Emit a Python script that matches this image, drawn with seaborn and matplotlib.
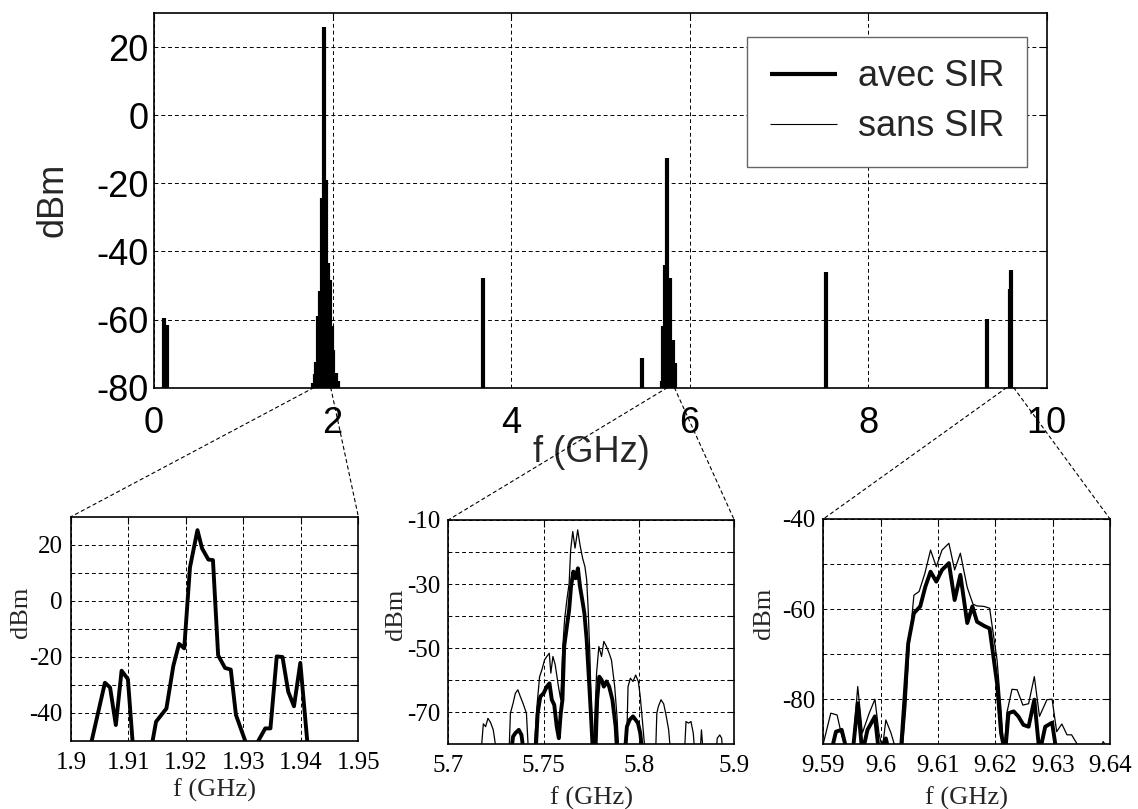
import matplotlib
matplotlib.use("Agg")
import matplotlib.pyplot as plt
from matplotlib.patches import ConnectionPatch
import pandas as pd
import seaborn as sns

# ---- main spectrum: spurs (GHz, dBm) ----
spur_f = [0.117, 0.149, 1.78, 1.80, 1.82, 1.84, 1.86, 1.88, 1.905, 1.93, 1.95,
          1.97, 1.99, 2.01, 2.04, 2.06, 3.68, 5.47, 5.69, 5.70, 5.72, 5.75,
          5.78, 5.81, 5.84, 7.53, 9.33, 9.59, 9.60]
spur_db = [-59.5, -61.6, -78.5, -76, -72.6, -59, -51.5, -24.4, 26, -19, -43.5,
           -48.5, -61.8, -69, -75.6, -78, -47.7, -71.4, -78, -62, -44, -12.6,
           -47.7, -66, -72.8, -46, -59.8, -51, -45.4]

# where the zoom lines leave the main axis (GHz)
zoom_from_left = [1.79, 5.75, 9.55]
zoom_from_right = [1.98, 5.83, 9.63]

# ---- zoom 1 : 1.90 - 1.95 GHz (both traces coincide) ----
z1_f = [1.9030, 1.9036, 1.9059, 1.9068, 1.9078, 1.9088, 1.9099, 1.9107, 1.9125,
        1.9142, 1.9148, 1.9166, 1.9178, 1.9188, 1.9197, 1.9207, 1.9220, 1.9228,
        1.9239, 1.9247, 1.9256, 1.9268, 1.9278, 1.9287, 1.9303, 1.9315, 1.9326,
        1.9338, 1.9347, 1.9358, 1.9368, 1.9378, 1.9388, 1.9399, 1.9411, 1.9420]
z1_db = [-56, -50, -29.3, -31, -44.4, -25, -28, -50, -60,
         -50, -43.2, -38.5, -23.3, -15.4, -17, 11.9, 25.2, 18.7,
         14.7, 14.5, -19.5, -24, -24.6, -40.8, -50, -60, -50,
         -45.6, -45.6, -19.9, -20.1, -32.5, -37.7, -22.2, -50, -58]

# ---- zoom 2 : 5.70 - 5.85 GHz ----
z2_sans_f = [5.7000,
             5.7170, 5.7184, 5.7196, 5.7208, 5.7222, 5.7236, 5.7257,
             5.7318, 5.7326, 5.7340, 5.7352, 5.7365, 5.7378, 5.7392, 5.7410, 5.7422,
             5.7448, 5.7465, 5.7479, 5.7491, 5.7505, 5.7517, 5.7530, 5.7538, 5.7549,
             5.7561, 5.7578, 5.7590,
             5.7601, 5.7610, 5.7622, 5.7634, 5.7642, 5.7653, 5.7665, 5.7679, 5.7691,
             5.7705, 5.7717, 5.7726, 5.7734, 5.7743, 5.7752, 5.7760,
             5.7778, 5.7790, 5.7804, 5.7816, 5.7830, 5.7844, 5.7856, 5.7873, 5.7885, 5.7896,
             5.7934, 5.7943, 5.7955, 5.7969, 5.7983, 5.7997, 5.8007, 5.8021, 5.8035,
             5.8087, 5.8094, 5.8102, 5.8116, 5.8130, 5.8142, 5.8156, 5.8168,
             5.8238, 5.8247, 5.8260, 5.8273, 5.8285, 5.8295,
             5.8320, 5.8328, 5.8339,
             5.8403, 5.8411, 5.8424, 5.8434, 5.8441,
             5.8500]
z2_sans_db = [-84,
              -84, -73.6, -74.5, -71.9, -73.2, -75.5, -84,
              -84, -70.3, -67.2, -64.1, -63, -65.1, -67.2, -70.3, -84,
              -84, -68.2, -58.9, -56.8, -53.7, -52.6, -51.6, -57.8, -52.6,
              -55.2, -62.0, -66.1,
              -49.5, -41.2, -35, -29.8, -19.4, -13.6, -18.8, -13.1, -17.8,
              -22, -24.6, -28.7, -38.1, -52.6, -72.4, -84,
              -57.8, -49.5, -52.6, -47.9, -49.5, -51.6, -53.7, -62.0, -71.3, -84,
              -84, -62, -59.4, -60.4, -58.4, -60.4, -65.1, -74.5, -84,
              -84, -70.3, -68.2, -66.1, -67.4, -70.8, -75.5, -84,
              -84, -72.9, -73.4, -72.9, -76.5, -84,
              -84, -75.5, -84,
              -84, -78.1, -77.1, -78.1, -84,
              -84]
z2_avec_f = [5.7000, 5.7326, 5.7340, 5.7352, 5.7370, 5.7384, 5.7399,
             5.7457, 5.7469, 5.7483, 5.7500, 5.7517, 5.7531, 5.7543, 5.7556, 5.7569, 5.7580,
             5.7590, 5.7599, 5.7608, 5.7622, 5.7634, 5.7644, 5.7656, 5.7668, 5.7680,
             5.7691, 5.7703, 5.7714, 5.7726, 5.7736, 5.7747, 5.7760,
             5.7771, 5.7781, 5.7792, 5.7804, 5.7816, 5.7830, 5.7844, 5.7861, 5.7878, 5.7887,
             5.7925, 5.7937, 5.7951, 5.7969, 5.7983, 5.7995, 5.8007, 5.8021, 5.8500]
z2_avec_db = [-84, -84, -77.6, -76.5, -75.5, -77.1, -84,
              -84, -70.3, -65.1, -64.1, -62, -61, -66.1, -67.7, -74.5, -78.1,
              -70.3, -66.1, -49.5, -43.3, -38.1, -30.8, -26.1, -28.2, -25.1,
              -30.8, -35, -39.1, -47.4, -57.8, -69.3, -84,
              -84, -66.1, -58.9, -59.9, -62, -60.4, -62, -66.1, -74.5, -84,
              -84, -74.5, -72.4, -71.3, -72.4, -73.4, -76.5, -84, -84]

# ---- zoom 3 : 9.59 - 9.64 GHz ----
z3_sans_f = [9.5900, 9.5913, 9.5924, 9.5931, 9.5939, 9.5951, 9.5960, 9.5968, 9.5980,
             9.5990, 9.5997, 9.6003, 9.6009, 9.6018, 9.6026, 9.6038, 9.6044, 9.6050,
             9.6058, 9.6067, 9.6077, 9.6087, 9.6097, 9.6107, 9.6119, 9.6129, 9.6139,
             9.6151, 9.6161, 9.6168, 9.6180, 9.6190, 9.6203, 9.6210, 9.6215, 9.6220,
             9.6229, 9.6238, 9.6248, 9.6258, 9.6268, 9.6277, 9.6290, 9.6299, 9.6307,
             9.6316, 9.6325, 9.6333, 9.6342, 9.6350, 9.6380, 9.6388, 9.6397]
z3_sans_db = [-89.8, -83.1, -83.5, -87.5, -91, -91, -77.2, -87.5, -83.1,
              -80, -87.5, -91, -84.6, -87.5, -91, -91, -81.6, -67.6,
              -56.9, -56.1, -52.1, -46.9, -50.6, -46.9, -45.4, -51.3, -47.6,
              -55.2, -58.9, -59.3, -59.4, -59.8, -71.3, -82.4, -92, -83.1,
              -77.8, -77.9, -81.3, -81, -75, -83.8, -80.1, -80, -87.2,
              -85.5, -87.9, -87.9, -89.8, -92, -92, -89.4, -91]
z3_avec_f = [9.5900, 9.5913, 9.5922, 9.5932, 9.5942, 9.5951, 9.5960, 9.5968, 9.5977,
             9.5990, 9.5997, 9.6009, 9.6015, 9.6035, 9.6041, 9.6048, 9.6058, 9.6069,
             9.6078, 9.6087, 9.6097, 9.6107, 9.6119, 9.6129, 9.6139, 9.6151, 9.6160,
             9.6168, 9.6180, 9.6190, 9.6203, 9.6210, 9.6217, 9.6223, 9.6232, 9.6240,
             9.6249, 9.6258, 9.6268, 9.6277, 9.6287, 9.6299, 9.6307, 9.6400]
z3_avec_db = [-92, -92, -87.2, -86.8, -92, -92, -80.9, -92, -86.8,
              -83.8, -92, -88.7, -92, -92, -80.9, -67.6, -60.9, -59.4,
              -55, -51.7, -53.9, -51.3, -49.8, -58, -52.4, -63.1, -59.4,
              -62.8, -63.7, -64.3, -76.5, -87.5, -92, -83.1, -82.7, -83.8,
              -85.7, -86.1, -80.1, -92, -86.1, -85.2, -92, -92]

GRID = dict(color="black", linestyle=(0, (4, 3)), linewidth=0.7)
SERIF = "Liberation Serif"
SANS = "Liberation Sans"


def style_axes(ax, fam, size, xpad, ypad):
    ax.set_axisbelow(True)
    ax.grid(True, **GRID)
    for sp in ax.spines.values():
        sp.set_visible(True)
        sp.set_color("black")
        sp.set_linewidth(1.2)
    ax.tick_params(direction="in", top=True, right=True, length=5, width=0.8,
                   colors="black", labelsize=size)
    ax.tick_params(axis="x", pad=xpad)
    ax.tick_params(axis="y", pad=ypad)
    for lab in ax.get_xticklabels() + ax.get_yticklabels():
        lab.set_family(fam)


def draw_zoom(ax, avec, sans, xlim, xticks, xlabels, ylim, yticks, ylabels,
              ylab_x, ylab_y, xlab_y):
    sns.lineplot(data=sans, x="f", y="dBm", ax=ax, color="black", linewidth=0.9,
                 estimator=None, sort=False)
    sns.lineplot(data=avec, x="f", y="dBm", ax=ax, color="black", linewidth=2.8,
                 estimator=None, sort=False)
    ax.set_xlim(*xlim)
    ax.set_ylim(*ylim)
    ax.set_xticks(xticks)
    ax.set_xticklabels(xlabels)
    ax.set_yticks(yticks)
    ax.set_yticklabels(ylabels)
    style_axes(ax, SERIF, 18, 8, 6)
    ax.set_xlabel("f (GHz)", family=SERIF, fontsize=19)
    ax.set_ylabel("dBm", family=SERIF, fontsize=19)
    ax.yaxis.set_label_coords(ylab_x, ylab_y)
    ax.xaxis.set_label_coords(0.5, xlab_y)


def main():
    sns.set_theme(style="white")
    plt.rcParams["font.family"] = [SANS, "DejaVu Sans"]
    plt.rcParams["axes.unicode_minus"] = False

    fig = plt.figure(figsize=(11.38, 8.09), dpi=100)
    ax = fig.add_axes([0.1353, 0.5208, 0.7845, 0.4632])
    a1 = fig.add_axes([0.0624, 0.0844, 0.2525, 0.2769])
    a2 = fig.add_axes([0.3939, 0.0800, 0.2513, 0.2773])
    a3 = fig.add_axes([0.7235, 0.0800, 0.2519, 0.2785])

    # main spectrum
    ax.vlines(spur_f, -80, spur_db, color="black", linewidth=3.0, label="avec SIR")
    ax.vlines(spur_f, -80, spur_db, color="black", linewidth=0.8, label="sans SIR")
    ax.set_xlim(0, 10)
    ax.set_ylim(-80, 30)
    ax.set_xticks(range(0, 11, 2))
    ax.set_yticks(range(-80, 21, 20))
    style_axes(ax, SANS, 26, 13, 4)
    ax.set_xlabel("f (GHz)", fontsize=26)
    ax.set_ylabel("dBm", fontsize=26)
    ax.xaxis.set_label_coords(0.49, -0.125)
    ax.yaxis.set_label_coords(-0.093, 0.5)
    leg = ax.legend(loc="upper right", bbox_to_anchor=(0.978, 0.936),
                    borderaxespad=0, fontsize=26, frameon=True, fancybox=False,
                    framealpha=1, edgecolor="0.4", handlelength=1.85,
                    handletextpad=0.6, labelspacing=0.42, borderpad=0.62)
    leg.get_frame().set_linewidth(1.0)

    z1 = pd.DataFrame({"f": z1_f, "dBm": z1_db})
    draw_zoom(a1, z1, z1, (1.9, 1.95),
              [1.9, 1.91, 1.92, 1.93, 1.94, 1.95],
              ["1.9", "1.91", "1.92", "1.93", "1.94", "1.95"],
              (-50, 30), list(range(-40, 21, 10)),
              ["-40", "", "-20", "", "0", "", "20"], -0.135, 0.575, -0.17)

    z2a = pd.DataFrame({"f": z2_avec_f, "dBm": z2_avec_db})
    z2s = pd.DataFrame({"f": z2_sans_f, "dBm": z2_sans_db})
    draw_zoom(a2, z2a, z2s, (5.7, 5.85), [5.7, 5.75, 5.8, 5.85],
              ["5.7", "5.75", "5.8", "5.9"],
              (-80, -10), list(range(-70, -9, 10)),
              ["-70", "", "-50", "", "-30", "", "-10"], -0.144, 0.58, -0.19)

    z3a = pd.DataFrame({"f": z3_avec_f, "dBm": z3_avec_db})
    z3s = pd.DataFrame({"f": z3_sans_f, "dBm": z3_sans_db})
    draw_zoom(a3, z3a, z3s, (9.59, 9.64),
              [9.59, 9.60, 9.61, 9.62, 9.63, 9.64],
              ["9.59", "9.6", "9.61", "9.62", "9.63", "9.64"],
              (-90, -40), list(range(-80, -39, 10)),
              ["-80", "", "-60", "", "-40"], -0.17, 0.583, -0.19)

    # dashed zoom lines from the main axis to the insets
    for axz, fl, fr in zip([a1, a2, a3], zoom_from_left, zoom_from_right):
        for fx, corner in [(fl, (0, 1)), (fr, (1, 1))]:
            con = ConnectionPatch(xyA=(fx, -80), coordsA=ax.transData,
                                  xyB=corner, coordsB=axz.transAxes,
                                  color="black", linewidth=0.8,
                                  linestyle=(0, (3, 3)))
            fig.add_artist(con)

    fig.savefig("out.png", dpi=100)


if __name__ == "__main__":
    main()
